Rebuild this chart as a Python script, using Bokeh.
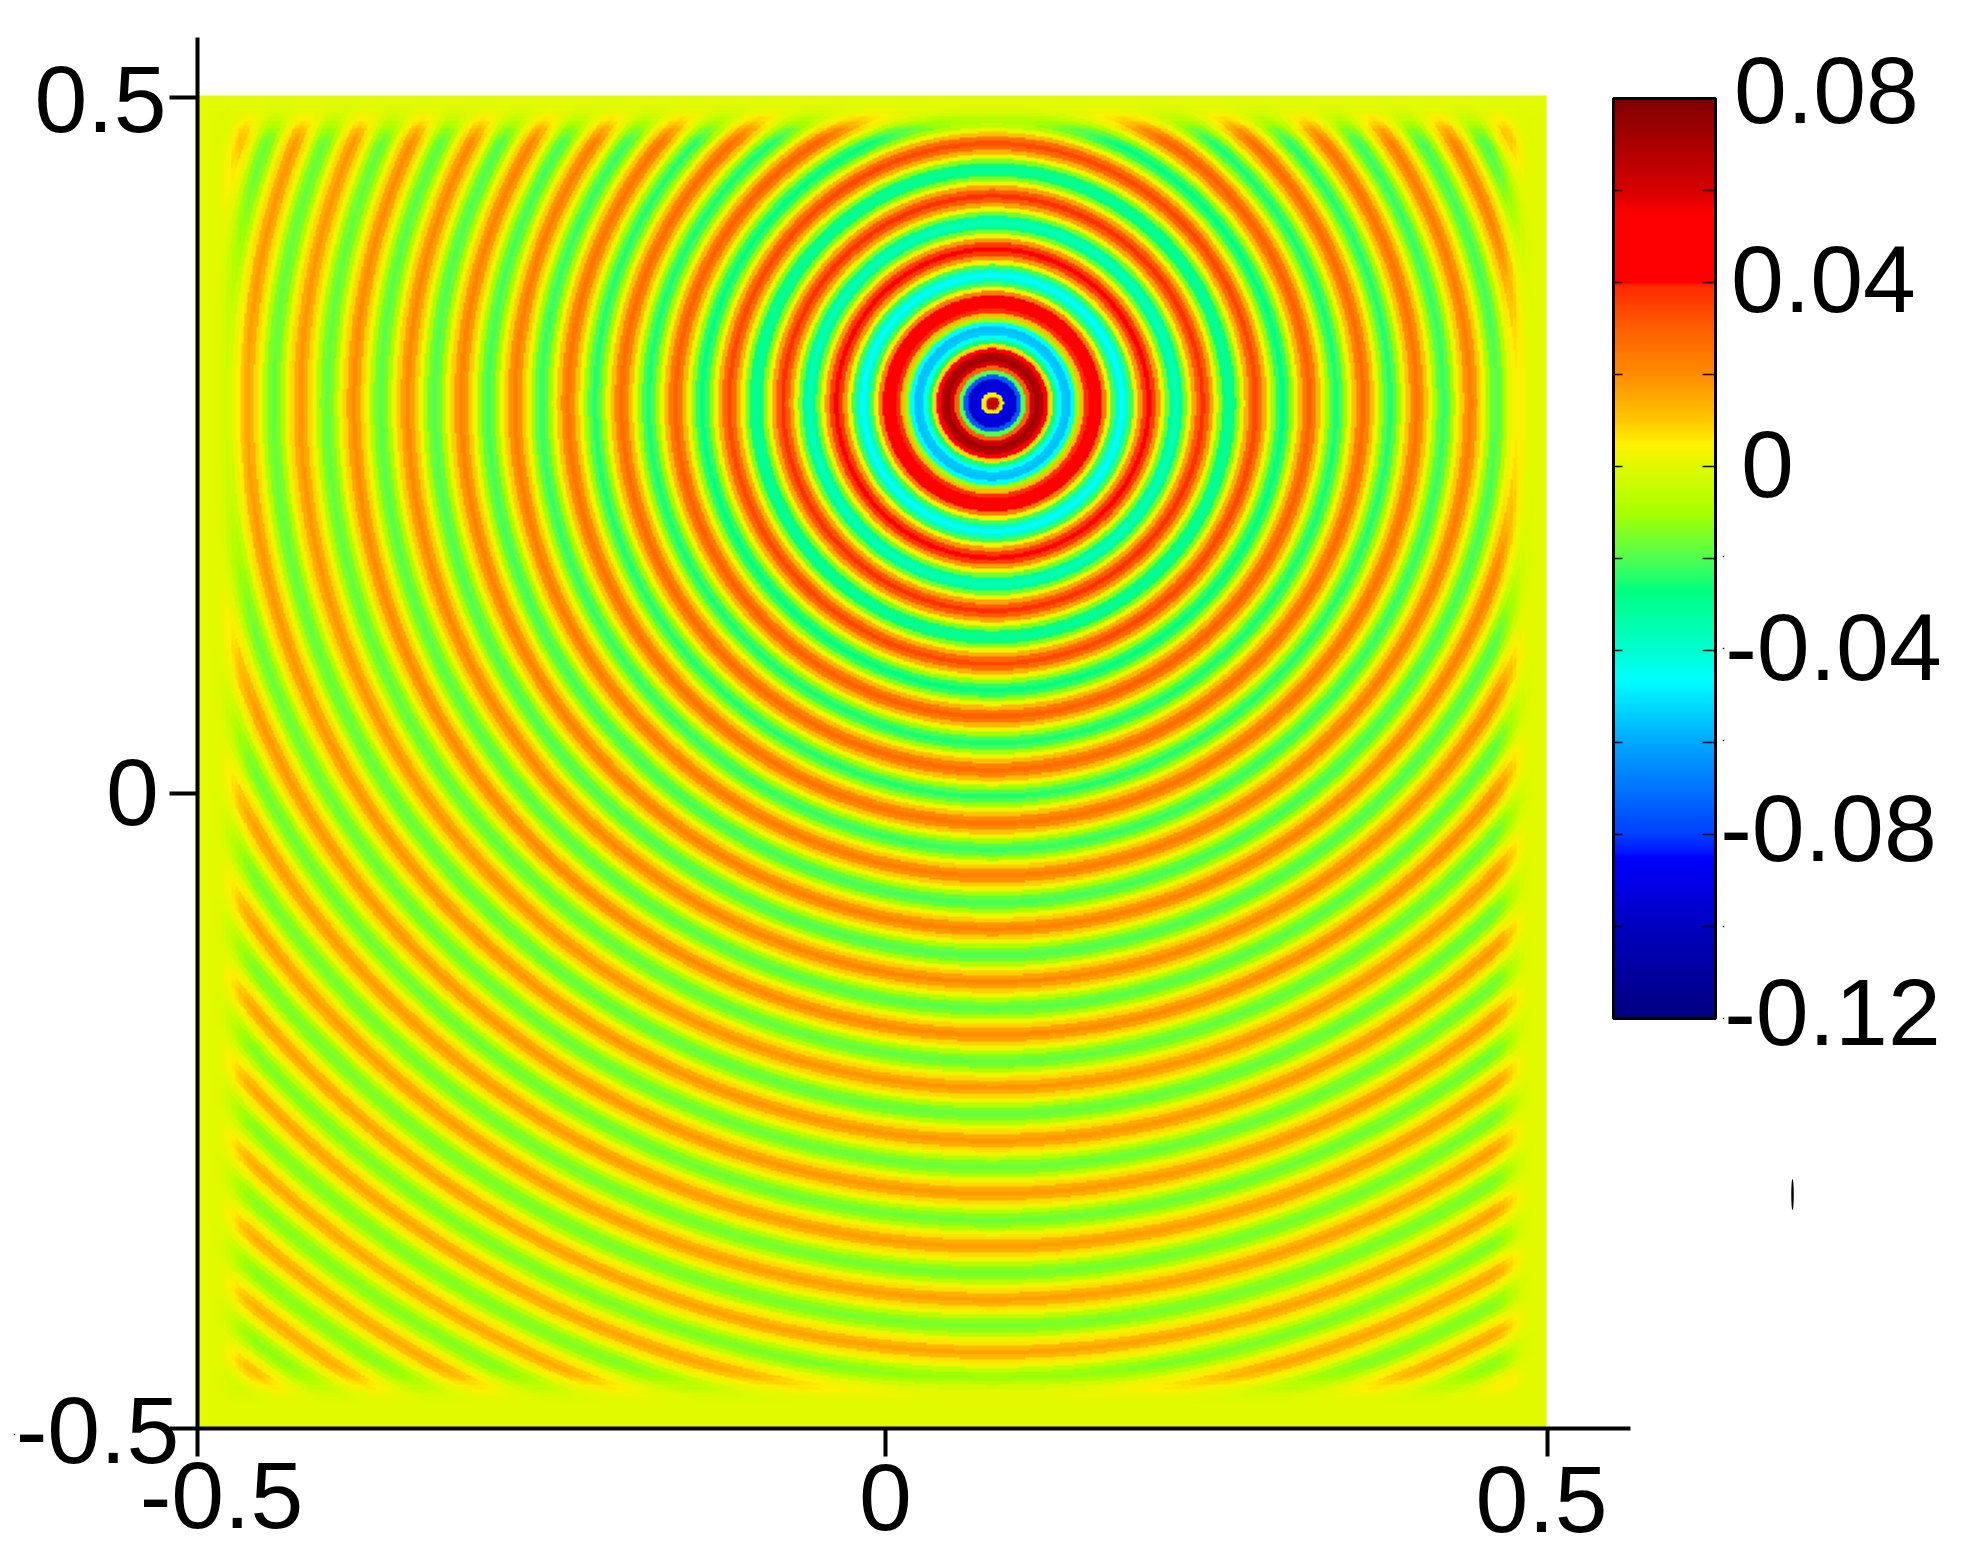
import numpy as np
from bokeh.embed import file_html
from bokeh.resources import INLINE
from bokeh.plotting import figure
from bokeh.models import LinearAxis, FixedTicker, LinearColorMapper, Label

# ---------- values ----------
source_x = 0.089
source_y = 0.269
radial_step = 0.003312
# wave value read outward from the source, one entry per radial_step
radial_profile = [
    .072, .062, .005, -.085, -.095, -.095, -.075, -.020, .030, .062, .072, .068,
    .042, .008, -.025, -.045, -.055, -.056, -.045, -.012, .012, .038, .052,
    .054, .046, .023, .002, -.021, -.039, -.046, -.039, -.021, .002, .018, .036,
    .044, .036, .018, .002, -.016, -.031, -.036, -.031, -.016, .002, .016, .031,
    .038, .031, .016, .002, -.014, -.026, -.031, -.026, -.014, .002, .014, .028,
    .034, .028, .014, .002, -.012, -.023, -.027, -.023, -.012, .002, .0125, .0245,
    .030, .0245, .0125, .002, -.011, -.021, -.025, -.021, -.011, .002, .0115, .022,
    .027, .022, .0115, .002, -.011, -.020, -.024, -.020, -.011, .002, .0105, .0205,
    .025, .0205, .0105, .002, -.010, -.019, -.022, -.019, -.010, .002, .0095, .019,
    .023, .019, .0095, .002, -.0095, -.018, -.021, -.018, -.0095, .002, .009, .018,
    .022, .018, .009, .002, -.009, -.017, -.020, -.017, -.009, .002, .009, .017,
    .021, .017, .009, .002, -.0085, -.016, -.019, -.016, -.0085, .002, .0085, .0165,
    .020, .0165, .0085, .002, -.008, -.015, -.018, -.015, -.008, .002, .008, .015,
    .0185, .015, .008, .002, -.008, -.015, -.0175, -.015, -.008, .002, .0075, .015,
    .018, .015, .0075, .002, -.0075, -.0145, -.017, -.0145, -.0075, .002, .0075, .0145,
    .0175, .0145, .0075, .002, -.0075, -.014, -.0165, -.014, -.0075, .002, .007, .014,
    .017, .014, .007, .002, -.007, -.0135, -.016, -.0135, -.007, .002, .007, .0135,
    .0165, .0135, .007, .002, -.007, -.013, -.0155, -.013, -.007, .002, .0065, .013,
    .016, .013, .0065, .002, -.0065, -.0125, -.015, -.0125, -.0065, .002, .0065, .0125,
    .0155, .0125, .0065, .002, -.0065, -.0125, -.0145, -.0125, -.0065, .002, .006, .012,
    .015, .012, .006, .002, -.006, -.012, -.014, -.012, -.006, .002, .006, .012,
    .0145, .012, .006, .002, -.006, -.0115, -.0135, -.0115, -.006, .002, .006, .0115,
    .014, .0115, .006, .002, -.006, -.011, -.013, -.011, -.006, .002, .0055, .011,
    .0135, .011, .0055, .002, -.0055, -.0105, -.0125, -.0105, -.0055, .002, .0055, .011,
    .013, .011, .0055, .002, -.0055, -.010, -.012, -.010, -.0055, .002, .0055, .0105,
]
# damping of the wave towards the walls, one entry per edge_step of distance
edge_step = 0.003
edge_damping = [0, 0, 0, 0, .02, .07, .16, .28, .42, .56, .70, .82, .91, .97, 1]
edge_shift_left = -0.002
edge_shift_right = 0.0
edge_shift_top = 0.0035
edge_shift_bottom = -0.007

x_tick_values = [-0.5, 0.0098, 0.5]
x_tick_labels = ["-0.5", "0", "0.5"]
y_tick_values = [-0.5, -0.0233, 0.5]
y_tick_labels = ["-0.5", "0", "0.5"]
colorbar_tick_values = [0.06, 0.04, 0.02, 0.0, -0.02, -0.04, -0.06, -0.08, -0.10]
colorbar_labels = ["0.08", "0.04", "0", "-0.04", "-0.08", "-0.12"]
color_stop_values = [-0.12, -0.10, -0.085, -0.0845, -0.08, -0.06, -0.0465, -0.04, -0.027,
                     -0.02, -0.01, 0.0, 0.005, 0.01, 0.02, 0.03, 0.0395, 0.04, 0.055, 0.06, 0.08]
color_stops = ["#000080", "#0000c0", "#0000ff", "#0010ff", "#0040ff", "#00a8ff", "#00ffff", "#00ffd0", "#00ff80",
               "#50ff50", "#a8ff00", "#e0fa00", "#fff000", "#ffc800", "#ff8c00", "#ff6000", "#ff2800", "#ff0000",
               "#ff0000", "#d80000", "#800000"]

# ---------- layout (page pixels) ----------
W, H = 1960, 1556
SX, SY = 1350.5, 1331.5
def X(px): return -0.5 + (px - 196.5) / SX
def Y(py): return 0.5 - (py - 96.5) / SY
# colour bar scale: pixel row of the value 0 and pixels per unit
BAR_ZERO, BAR_SCALE = 466.0, 4600.0
# a Label's alphabetic anchor sits this far below the drawn baseline
BASELINE_SHIFT = 32

FONT = "Liberation Sans"
INK = "#000000"

def hexes(vals):
    rgb = np.array([[int(c[i:i + 2], 16) for i in (1, 3, 5)] for c in color_stops], float)
    return ["#%02x%02x%02x" % tuple(int(round(np.interp(v, color_stop_values, rgb[:, k]))) for k in range(3)) for v in vals]

mapper = LinearColorMapper(palette=hexes(np.linspace(-0.12, 0.08, 512)), low=-0.12, high=0.08)

p = figure(width=W, height=H, output_backend="svg", toolbar_location=None,
           x_axis_type=None, y_axis_type=None, min_border=0,
           x_range=(X(0), X(W)), y_range=(Y(H), Y(0)),
           outline_line_color=None, background_fill_color="white", border_fill_color="white")

# ---------- wave field ----------
nx, ny = 900, 888
gx = -0.5 + (np.arange(nx) + 0.5) / nx
gy = -0.5 + (np.arange(ny) + 0.5) / ny
xx, yy = np.meshgrid(gx, gy)
rr = np.hypot(xx - source_x, yy - source_y)
profile = np.asarray(radial_profile)
field = profile[np.clip(np.rint(rr / radial_step).astype(int), 0, len(profile) - 1)]
damp = np.asarray(edge_damping)
def edge_factor(d):
    return damp[np.clip(np.rint(d / edge_step).astype(int), 0, len(damp) - 1)]
field = field * edge_factor(gx + 0.5 + edge_shift_left)[None, :] * edge_factor(0.5 - gx + edge_shift_right)[None, :]
field = field * edge_factor(gy + 0.5 + edge_shift_bottom)[:, None] * edge_factor(0.5 - gy + edge_shift_top)[:, None]
p.image(image=[field.astype(np.float32)], x=X(198), y=-0.5, dw=X(1546) - X(198), dh=Y(95) - (-0.5), color_mapper=mapper)

# ---------- colour bar ----------
bar_left, bar_right, bar_top, bar_bottom = 1613, 1715, 98, 1018
def bar_py(v): return BAR_ZERO - v * BAR_SCALE
column = np.linspace(-0.12, 0.08, bar_bottom - bar_top)[:, None]
p.image(image=[column.astype(np.float32)], x=X(bar_left), y=Y(bar_bottom), dw=X(bar_right) - X(bar_left),
        dh=Y(bar_top) - Y(bar_bottom), color_mapper=mapper)
p.quad(left=[X(bar_left)], right=[X(bar_right)], top=[Y(bar_top)], bottom=[Y(bar_bottom)],
       fill_color=None, line_color=INK, line_width=3)
tick_y = [Y(bar_py(v)) for v in colorbar_tick_values]
p.segment(x0=[X(bar_left)] * len(tick_y), x1=[X(bar_left + 9)] * len(tick_y), y0=tick_y, y1=tick_y,
          line_color=INK, line_width=1.5)
p.segment(x0=[X(bar_right - 13)] * len(tick_y), x1=[X(bar_right)] * len(tick_y), y0=tick_y, y1=tick_y,
          line_color=INK, line_width=1.5)

# stray specks of the original
p.scatter(x=[X(1723)] * 5 + [X(14)], y=[Y(556), Y(648), Y(740), Y(926), Y(1018), Y(1434)], size=1.5, marker="square",
          fill_color=INK, line_color=None)
p.ellipse(x=[X(1792)], y=[Y(1194)], width=[2.5 / SX], height=[31 / SY], fill_color=INK, line_color=None)

# ---------- axes ----------
xaxis = LinearAxis(fixed_location=-0.5, bounds=(-0.5, X(1630)), ticker=FixedTicker(ticks=x_tick_values),
                   major_label_overrides={v: "" for v in x_tick_values}, axis_line_width=4, axis_line_color=INK,
                   major_tick_line_width=4, major_tick_line_color=INK, major_tick_out=28, major_tick_in=0,
                   minor_tick_line_color=None)
yaxis = LinearAxis(fixed_location=-0.5, bounds=(-0.5, Y(37)), ticker=FixedTicker(ticks=y_tick_values),
                   major_label_overrides={v: "" for v in y_tick_values}, axis_line_width=4, axis_line_color=INK,
                   major_tick_line_width=4, major_tick_line_color=INK, major_tick_out=28, major_tick_in=0,
                   minor_tick_line_color=None)
p.add_layout(xaxis, "below")
p.add_layout(yaxis, "left")

def label(text, cx, base, size=95):
    p.add_layout(Label(x=X(cx), y=Y(base - BASELINE_SHIFT), text=text, text_font=FONT, text_font_size=f"{size}px",
                       text_color=INK, text_align="center", text_baseline="alphabetic"))

for t, cx, base in zip(x_tick_labels, (221, 885, 1541), (1527, 1529, 1531)):
    label(t, cx, base)
for t, cx, base in zip(y_tick_labels, (97, 132, 100), (1462, 824, 131)):
    label(t, cx, base)
for t, cx, base in zip(colorbar_labels, (1826, 1823, 1767, 1833, 1828, 1832),
                       (122, 311, 496, 679, 860, 1044)):
    label(t, cx, base)

open("out.html", "w").write(file_html(p, INLINE))
